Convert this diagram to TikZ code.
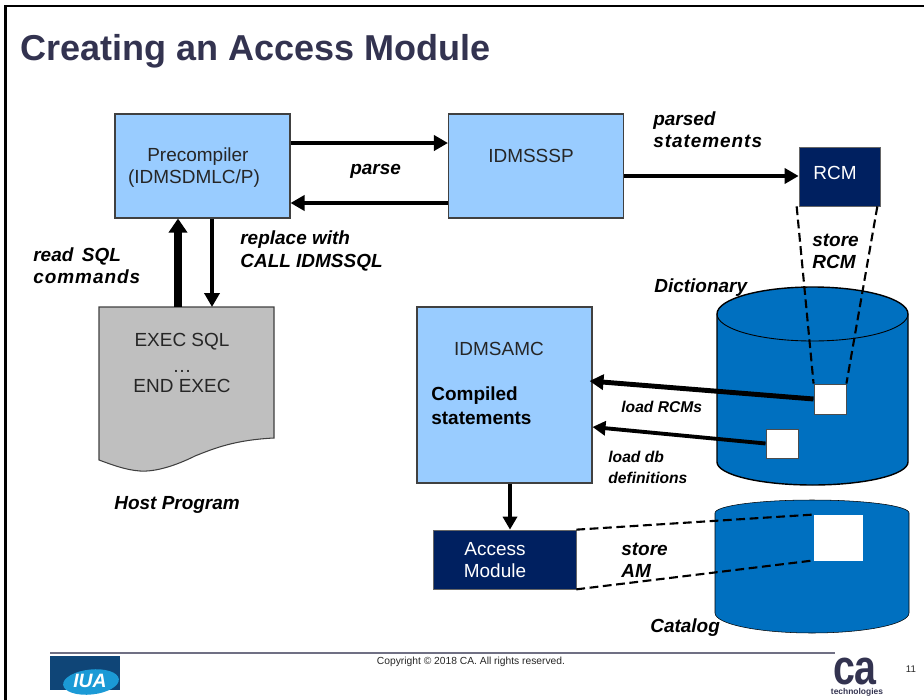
\documentclass[tikz,border=0pt]{standalone}
\usepackage{fontspec}
\setmainfont{Liberation Sans}
\usepackage{xcolor}
\definecolor{ltblue}{RGB}{153,204,255}
\definecolor{navyblue}{RGB}{0,32,96}
\definecolor{diskblue}{RGB}{0,112,192}
\definecolor{docgray}{RGB}{191,191,191}
\definecolor{titlegray}{RGB}{51,51,80}
\definecolor{iuablue}{RGB}{15,69,119}
\definecolor{iuacyan}{RGB}{27,154,214}
\usetikzlibrary{arrows.meta, shapes.geometric}
\newcommand{\bodyfont}{\fontsize{10.8}{12.6}\selectfont}
\newcommand{\notefont}{\fontsize{10.8}{12.6}\selectfont\bfseries\itshape}
\newcommand{\smallnote}{\fontsize{8.9}{12}\selectfont\bfseries\itshape}
\newcommand{\spaced}[1]{{\addfontfeature{LetterSpace=5}#1}}

\begin{document}
\begin{tikzpicture}[
    % one unit is one pixel of the slide
    x=0.02cm, y=-0.02cm,
    >=Triangle,
    % Styles
    prog/.style={% For the light blue program boxes
        rectangle,
        draw=black!75,
        fill=ltblue,
        line width=.6pt,
        inner sep=0pt,
        },
    store/.style={% For the dark result boxes
        rectangle,
        draw=black!60,
        fill=navyblue,
        line width=.4pt,
        inner sep=0pt,
        },
    slot/.style={% For the white squares in the disks
        rectangle,
        draw=black!70,
        fill=white,
        line width=.5pt,
        inner sep=0pt,
        },
    disk/.style={% For the two disks
        draw=black,
        fill=diskblue,
        line width=.8pt,
        },
    boxtext/.style={font=\bodyfont, align=center, inner sep=0pt},
    note/.style={font=\notefont, align=left, anchor=west, inner sep=0pt},
    smallnote/.style={font=\smallnote, align=left, anchor=west, inner sep=0pt},
    ArrowA/.style={line width=2.8pt, ->, >={Triangle[length=.28cm,width=.3cm]}},
    ArrowB/.style={line width=2.2pt, ->, >={Triangle[length=.26cm,width=.28cm]}},
    ArrowC/.style={line width=4pt, ->, >={Triangle[length=.28cm,width=.36cm]}},
    Dash/.style={line width=1.2pt, dash pattern=on 5pt off 2.6pt},
    ]
    \useasboundingbox (0,0) rectangle (924,700);

    % Slide frame and title
    \draw [line width=1.4pt] (5.3,700) -- (5.3,6) -- (924,6);
    \node [font=\fontsize{20.5}{24}\selectfont\bfseries, text=titlegray, anchor=west, inner sep=0pt] (title) at (20,51) {Creating an Access Module};

    % Draw the host program
    \draw [draw=black!75, fill=docgray, line width=.6pt] (99,307) -- (274,307) -- (274,438)
        .. controls (235,440) and (215,448) .. (195,456)
        .. controls (175,466) and (155,472) .. (140,471)
        .. controls (125,470) and (110,464) .. (99,460) -- cycle;
    \coordinate (docA) at (178,307);
    \coordinate (docB) at (212,307);
    \node [boxtext, text=black!85] (exec) at (182,363) {EXEC SQL\\[2pt]\dots\\[-1pt]END EXEC};

    % Draw the boxes
    \node [prog, minimum width=3.5cm, minimum height=2.08cm] (pre) at (202.5,166) {};
    \node [boxtext, text=black!85] (pretext) at (194,168) {\hspace*{4.5pt}Precompiler\\(IDMSDMLC/P)};
    \node [prog, minimum width=3.5cm, minimum height=2.08cm] (sssp) at (536,166) {};
    \node [boxtext, text=black!85] (ssptext) at (531,156) {IDMSSSP};
    \node [prog, minimum width=3.5cm, minimum height=3.52cm] (amc) at (504.5,395) {};
    \node [boxtext, text=black!85] (amctext) at (499,349) {IDMSAMC};
    \node [store, minimum width=1.62cm, minimum height=1.18cm] (rcm) at (839.5,176.5) {};
    \node [boxtext, text=white] (rcmtext) at (835,173) {RCM};
    \node [store, minimum width=2.86cm, minimum height=1.18cm] (am) at (504.5,559.5) {};
    \node [boxtext, text=white] (amtext) at (495,560) {Access\\Module};

    % Draw the disks
    \draw [disk] (717,314) -- (717,462) arc [start angle=180, end angle=0, x radius=95.5, y radius=23]
        -- (908,314) arc [start angle=0, end angle=-180, x radius=95.5, y radius=27] -- cycle;
    \draw [line width=.5pt] (717,314) arc [start angle=180, end angle=0, x radius=95.5, y radius=27];
    \draw [disk, line width=.3pt] (715,513) -- (715,613) arc [start angle=180, end angle=0, x radius=97, y radius=20]
        -- (909,513) arc [start angle=0, end angle=-180, x radius=97, y radius=13] -- cycle;

    % Draw the slots
    \node [slot, minimum width=.64cm, minimum height=.6cm] (rcmslot) at (830,399) {};
    \node [slot, minimum width=.64cm, minimum height=.58cm] (dbslot) at (782,443.5) {};
    \node [slot, draw=white, minimum width=.96cm, minimum height=.9cm] (amslot) at (838,537.5) {};

    % Draw the labels
    \node [note] (readlbl) at (33,266) {read\, SQL\\\spaced{commands}};
    \node [note] (replbl) at (240,251) {replace with\\CALL IDMSSQL};
    \node [note] (parselbl) at (350,171) {parse};
    \node [note] (parsedlbl) at (653,130) {parsed\\\spaced{statements}};
    \node [note] (storelbl) at (812,251) {store\\RCM};
    \node [note] (dictlbl) at (654,288) {Dictionary};
    \node [note] (hostlbl) at (114,505) {Host Program};
    \node [font=\fontsize{10.8}{13.6}\selectfont\bfseries, align=left, anchor=west, inner sep=0pt] (complbl) at (431,406) {Compiled\\statements};
    \node [smallnote] (loadlbl) at (621,407) {load RCMs};
    \node [smallnote] (dblbl) at (608,467.5) {load db\\definitions};
    \node [note] (amlbl) at (621,560) {store\\AM};
    \node [note] (catlbl) at (650,628) {Catalog};

    % Connect the boxes
    \draw [ArrowA] ([yshift=.46cm]pre.east) -- ([yshift=.46cm]sssp.west);
    \draw [ArrowA] ([yshift=-.74cm]sssp.west) -- ([yshift=-.74cm]pre.east);
    \draw [ArrowA] ([yshift=-.2cm]sssp.east) -- ([yshift=-.2cm]sssp.east -| rcm.west);
    \draw [ArrowC] (docA) -- (docA |- pre.south);
    \draw [ArrowA] (docB |- pre.south) -- (docB);
    \draw [ArrowA] (rcmslot.west) -- ([xshift=-.06cm,yshift=.28cm]amc.east);
    \draw [ArrowB] (dbslot.west) -- ([yshift=-.64cm]amc.east);
    \draw [ArrowB] ([xshift=.11cm]amc.south) -- ([xshift=.11cm]am.north);

    % Dashed lines to the slots
    \draw [Dash] ([xshift=-.04cm]rcm.south west) -- (rcmslot.north west);
    \draw [Dash] ([xshift=-.06cm]rcm.south east) -- (rcmslot.north east);
    \draw [Dash] (am.north east) -- (amslot.north west);
    \draw [Dash] (am.south east) -- (amslot.south west);

    % Footer
    \draw [draw=titlegray!70, line width=.6pt] (50,653) coordinate (footL) -- (835,653) coordinate (footR);
    \node [font=\fontsize{5.85}{7}\selectfont, text=black!85, inner sep=0pt] (copy) at (471,662) {Copyright © 2018 CA. All rights reserved.};
    \node [font=\fontsize{5.5}{7}\selectfont, text=black!85, inner sep=0pt] (pagenum) at (911,669) {11};

    % IUA logo
    \node [rectangle, fill=iuablue, minimum width=1.4cm, minimum height=.68cm, inner sep=0pt] (iua) at (85,673) {};
    \node [ellipse, fill=iuacyan, rotate=6, minimum width=1.12cm, minimum height=.5cm, inner sep=0pt] (iuadisk) at (91,682) {};
    \node [font=\fontsize{11}{12}\selectfont\bfseries\itshape, text=white, inner sep=0pt] (iuatext) at (90,681) {IUA};

    % CA logo
    \node [font=\fontsize{28}{30}\selectfont\bfseries, text=titlegray, xscale=.8, inner sep=0pt] (calogo) at (855,671) {ca};
    \node [font=\fontsize{4.8}{6}\selectfont\bfseries, text=titlegray, inner sep=0pt] (catech) at (857,692) {technologies};
\end{tikzpicture}
\end{document}
